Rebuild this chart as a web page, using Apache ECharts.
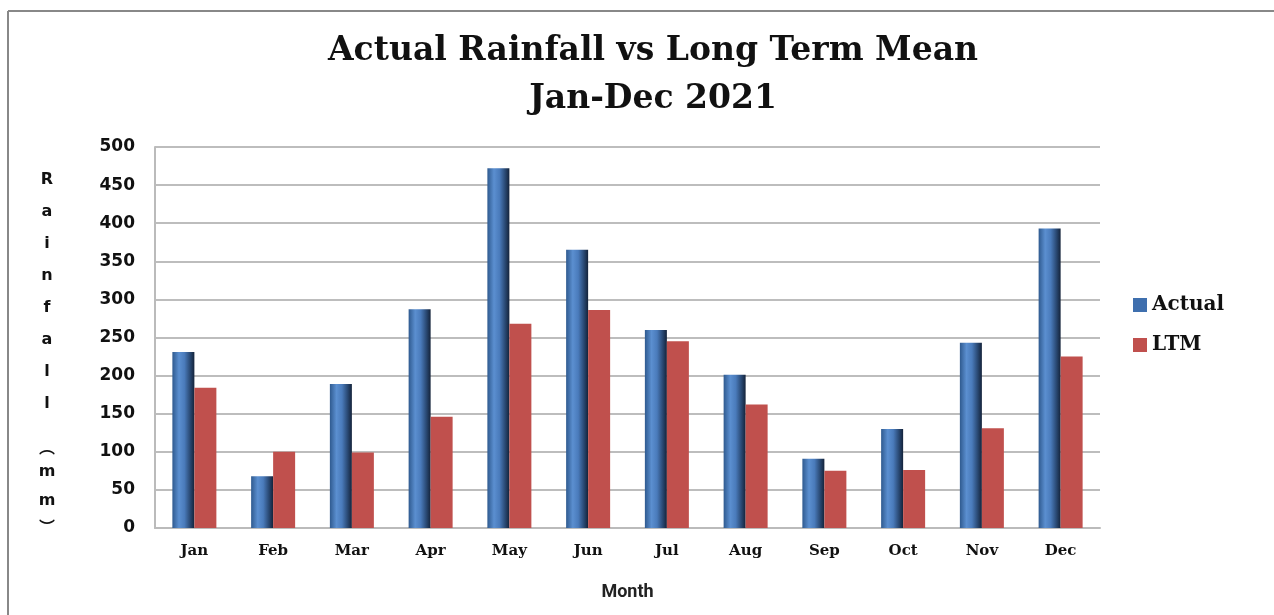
<!DOCTYPE html>
<html>
<head>
<meta charset="utf-8">
<script src="https://cdn.jsdelivr.net/npm/echarts@6/dist/echarts.min.js"></script>
<style>
  html, body { margin: 0; padding: 0; background: #fff; }
  #chart { width: 1274px; height: 615px; }
</style>
</head>
<body>
<div id="chart"></div>
<script>
const months = ["Jan", "Feb", "Mar", "Apr", "May", "Jun", "Jul", "Aug", "Sep", "Oct", "Nov", "Dec"];
const actual = [231, 68, 189, 287, 472, 365, 260, 201, 91, 130, 243, 393];
const ltm = [184, 100, 99, 146, 268, 286, 245, 162, 75, 76, 131, 225];
const yTicks = [0, 50, 100, 150, 200, 250, 300, 350, 400, 450, 500];

const chart = echarts.init(document.getElementById("chart"));

// stacked vertical axis name, parentheses in their vertical forms
const yName = [
  ..."Rainfall".split("").map((c) => `{a|${c}}`),
  "{g| }",
  "{p|\uFE35}",
  "{m|m}",
  "{m|m}",
  "{p|\uFE36}",
].join("\n");

const cylinder = new echarts.graphic.LinearGradient(0, 0, 1, 0, [
  { offset: 0, color: "#2f5a8f" },
  { offset: 0.3, color: "#5b8fd0" },
  { offset: 0.55, color: "#4a7bbb" },
  { offset: 0.8, color: "#2a4a75" },
  { offset: 1, color: "#14233a" },
]);

chart.setOption({
  animation: false,
  backgroundColor: "#fff",
  title: {
    text: "Actual Rainfall vs Long Term Mean\nJan-Dec 2021",
    left: 648,
    textAlign: "center",
    top: 22,
    textStyle: {
      fontFamily: "DejaVu Serif",
      fontWeight: "bold",
      fontSize: 33,
      lineHeight: 48,
      color: "#111",
    },
  },
  graphic: [
    { type: "line", shape: { x1: 8, y1: 11, x2: 1274, y2: 11 }, style: { stroke: "#888", lineWidth: 2 } },
    { type: "line", shape: { x1: 8, y1: 11, x2: 8, y2: 615 }, style: { stroke: "#888", lineWidth: 2 } },
  ],
  legend: {
    orient: "vertical",
    left: 1128,
    top: 290,
    itemWidth: 14,
    itemHeight: 14,
    itemGap: 20,
    icon: "rect",
    textStyle: { fontFamily: "DejaVu Serif", fontWeight: "bold", fontSize: 20, color: "#111" },
    data: [
      { name: "Actual", itemStyle: { color: "#3f6fae" } },
      { name: "LTM", itemStyle: { color: "#c0504d" } },
    ],
  },
  grid: { left: 155, right: 174, top: 147, bottom: 87 },
  xAxis: {
    type: "category",
    data: months,
    name: "Month",
    nameLocation: "middle",
    nameGap: 55,
    nameTextStyle: { fontFamily: "Roboto", fontWeight: "bold", fontSize: 18, color: "#222" },
    axisLine: { lineStyle: { color: "#bbb", width: 2 } },
    axisTick: { show: false },
    axisLabel: { margin: 16, fontFamily: "DejaVu Serif", fontWeight: "bold", fontSize: 15, color: "#111" },
  },
  yAxis: {
    type: "value",
    min: 0,
    max: 500,
    interval: 50,
    name: yName,
    nameLocation: "middle",
    nameRotate: 0,
    nameGap: 108,
    nameTextStyle: {
      align: "center",
      padding: [26, 0, 0, 0],
      fontFamily: "DejaVu Sans",
      fontWeight: "bold",
      fontSize: 16,
      color: "#111",
      rich: {
        a: { fontFamily: "DejaVu Sans", fontWeight: "bold", fontSize: 16, lineHeight: 32, color: "#111" },
        g: { fontSize: 10, lineHeight: 16 },
        p: { fontFamily: "Noto Sans CJK SC", fontWeight: "bold", fontSize: 16, lineHeight: 22, color: "#111" },
        m: { fontFamily: "DejaVu Sans", fontWeight: "bold", fontSize: 16, lineHeight: 29, color: "#111" },
      },
    },
    axisLine: { show: true, lineStyle: { color: "#bbb", width: 2 } },
    axisTick: { show: false },
    splitLine: { lineStyle: { color: "#bdbdbd", width: 2 } },
    axisLabel: {
      margin: 20,
      fontFamily: "DejaVu Sans",
      fontWeight: "bold",
      fontSize: 17,
      color: "#111",
      formatter: (v) => (yTicks.includes(v) ? String(v) : ""),
    },
  },
  series: [
    {
      name: "Actual",
      type: "bar",
      data: actual,
      barWidth: 22,
      barGap: "0%",
      itemStyle: { color: cylinder },
    },
    {
      name: "LTM",
      type: "bar",
      data: ltm,
      barWidth: 22,
      itemStyle: { color: "#c0504d" },
    },
  ],
});
</script>
</body>
</html>
